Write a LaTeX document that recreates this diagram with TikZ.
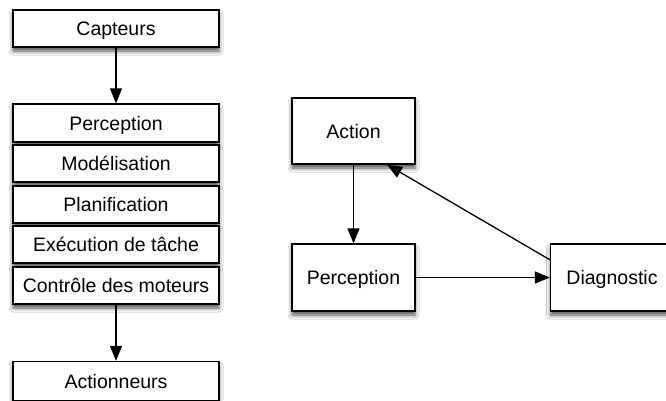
\documentclass[tikz,border=0pt]{standalone}
\usepackage{fontspec}
\setmainfont{Liberation Sans}
\usetikzlibrary{arrows.meta,shadows.blur,calc}
\begin{document}
\begin{tikzpicture}[x=1pt,y=-1pt,
  box/.style={draw=black,line width=1.3pt,fill=white,inner sep=0pt,
    font=\fontsize{19.5}{22}\selectfont,text height=14pt,text depth=0pt,
    blur shadow={shadow xshift=0pt,shadow yshift=-4pt,shadow blur radius=4pt,shadow opacity=70}},
  lbox/.style={box,minimum width=206pt,minimum height=37pt},
  rbox/.style={box,minimum width=123pt,minimum height=67pt},
  conn/.style={line width=1.3pt,-{Triangle[length=15pt,width=12pt]}}]
\useasboundingbox[fill=white] (0,0) rectangle (666,400);
\node[lbox] (capt) at (116,28.5) {Capteurs};
\node[lbox,minimum height=38pt] (perc) at (116,123) {Perception};
\node[lbox] (mode) at (116,163.5) {Modélisation};
\node[lbox] (plan) at (116,204.5) {Planification};
\node[lbox] (exec) at (116,244.5) {Exécution de tâche};
\node[lbox] (cont) at (116,285.5) {Contrôle des moteurs};
\node[lbox,minimum height=39pt] (actn) at (116,381) {Actionneurs};
\draw[conn] (capt) -- (perc);
\draw[conn] (cont) -- (actn);
\node[rbox,minimum height=66pt] (act) at (353.5,131) {Action};
\node[rbox] (rper) at (353.5,277.5) {Perception};
\node[rbox] (diag) at (612,277.5) {Diagnostic};
\draw[conn] (act) -- (rper);
\draw[conn] (rper) -- (diag);
\draw[conn] ($(diag.north west)!0.24!(diag.south west)$) -- ($(act.south west)!0.77!(act.south east)$);
\end{tikzpicture}
\end{document}
